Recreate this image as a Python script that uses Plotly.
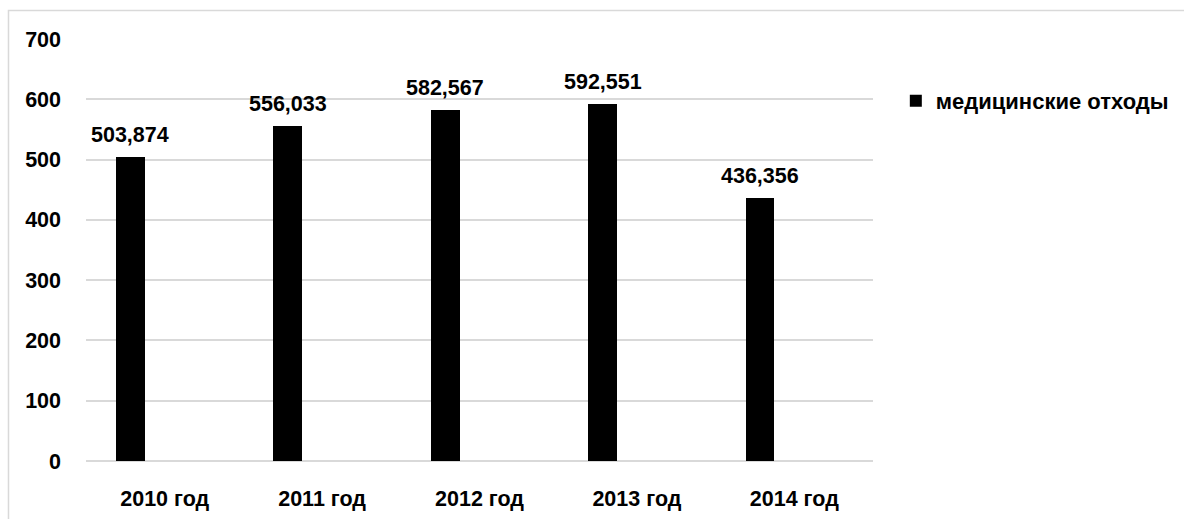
import plotly.graph_objects as go

categories = ["2010 год", "2011 год", "2012 год", "2013 год", "2014 год"]
values = [503.874, 556.033, 582.567, 592.551, 436.356]
series_name = "медицинские отходы"
y_ticks = [0, 100, 200, 300, 400, 500, 600, 700]

FONT = "Liberation Sans, Arial"
BOLD = dict(family=FONT, color="#000000", weight="bold")

fig = go.Figure()
fig.add_trace(go.Bar(
    x=categories, y=values, name=series_name,
    marker=dict(color="#000000", line=dict(width=0)),
    width=0.184, offset=-0.31,
    cliponaxis=False,
))

for i, v in enumerate(values):
    fig.add_annotation(
        x=i - 0.218, y=v, xref="x", yref="y",
        text=f"{v:.3f}".replace(".", ","),
        showarrow=False, yanchor="bottom", yshift=8,
        font=dict(**BOLD, size=21.5),
    )

# chart-area frame: only top and left edges visible in the crop
fig.add_shape(type="rect", xref="paper", yref="paper",
              x0=-0.0985, x1=1.6, y0=-0.3, y1=1.0675,
              line=dict(color="#d9d9d9", width=1.5), fillcolor="rgba(0,0,0,0)", layer="below")

fig.update_layout(
    width=1184, height=519,
    margin=dict(l=86, r=311, t=39, b=58, autoexpand=False),
    paper_bgcolor="white", plot_bgcolor="white",
    font=dict(**BOLD, size=21.5),
    showlegend=True,
    legend=dict(x=1.029, y=0.853, xanchor="left", yanchor="middle",
                font=dict(**BOLD, size=22),
                itemwidth=30, bgcolor="rgba(0,0,0,0)"),
    bargap=0,
    xaxis=dict(type="category", showgrid=False, showline=False, ticks="",
               tickfont=dict(**BOLD, size=21.5), range=[-0.5, 4.5],
               ticklabelstandoff=22, automargin=False),
    yaxis=dict(range=[0, 700], tickvals=y_ticks, showgrid=True, gridcolor="#d9d9d9",
               gridwidth=1.5, zeroline=True, zerolinecolor="#d9d9d9", zerolinewidth=1.5,
               showline=False, ticks="", ticklabelstandoff=24, automargin=False,
               tickfont=dict(**BOLD, size=21.5)),
)

fig.write_html("out.html")
